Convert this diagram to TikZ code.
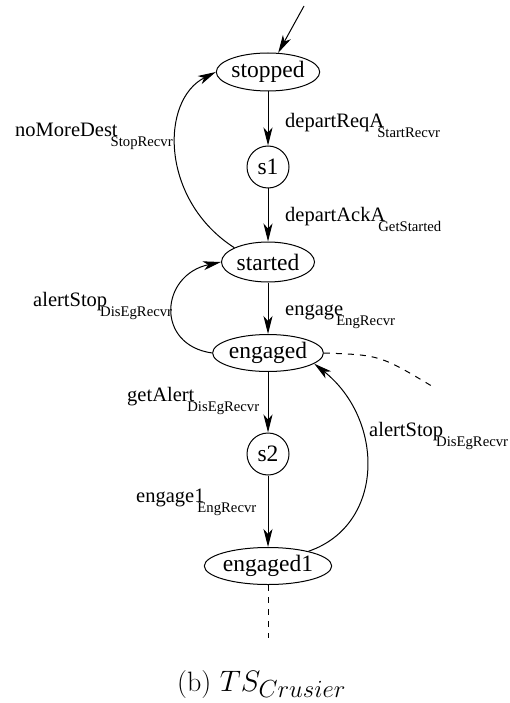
\documentclass[tikz,border=0pt]{standalone}
\usepackage{fontspec}
\newfontfamily\tms{Liberation Serif}
\usetikzlibrary{arrows.meta,shapes.geometric}
% transition label: event name with a lowered receiver subscript
\newcommand\edgelbl[2]{#1\kern-7pt\raisebox{-10pt}{\fontsize{14.7}{16}\selectfont #2}}
\begin{document}
\begin{tikzpicture}[x=1pt,y=-1pt,
  statebox/.style={ellipse,draw,line width=1pt,inner sep=0pt,
    font=\tms\fontsize{23.5}{25}\selectfont},
  midstate/.style={circle,draw,line width=1pt,inner sep=0pt,minimum size=42pt,
    font=\tms\fontsize{23.5}{25}\selectfont},
  trans/.style={line width=1pt,-{Stealth[length=18pt,width=9pt,inset=5pt]}},
  open/.style={line width=1pt,dash pattern=on 6pt off 6pt},
  lbl/.style={anchor=base west,inner sep=0pt,font=\tms\fontsize{20.5}{22}\selectfont}]
\useasboundingbox (0,0) rectangle (509,703);

% states
\node[statebox,minimum width=93pt,minimum height=38pt] (stopped) at (268,72) {stopped};
\node[midstate] (s1) at (268,167) {s1};
\node[statebox,minimum width=93pt,minimum height=40pt] (started) at (268,262) {started};
\node[statebox,minimum width=104pt,minimum height=37pt] (engaged) at (268,353) {engaged};
\node[midstate] (s2) at (268,454) {s2};
\node[statebox,minimum width=103pt,minimum height=37pt] (engaged1) at (268,566) {engaged1};

% initial arrow and open ends
\coordinate (init) at (304,6);
\coordinate (moreA) at (435,388);
\coordinate (moreB) at (268,638);
\draw[trans] (init) -- (stopped.62);
\draw[open] (engaged.east) .. controls (380,355) .. (moreA);
\draw[open] (engaged1.south) -- (moreB);

% straight transitions
\draw[trans] (stopped) -- (s1);
\draw[trans] (s1) -- (started);
\draw[trans] (started) -- (engaged);
\draw[trans] (engaged) -- (s2);
\draw[trans] (s2) -- (engaged1);

% back transitions
\draw[trans] (started.157) .. controls (160,200) and (160,100) .. (stopped.west);
\draw[trans] (engaged.west) .. controls (155,345) and (160,275) .. (started.west);
\draw[trans] (engaged1.20) .. controls (385,525) and (385,420) .. (engaged.-13);

% labels
\node[lbl] (l1) at (285,128) {\edgelbl{departReqA}{StartRecvr}};
\node[lbl] (l2) at (285,222) {\edgelbl{departAckA}{GetStarted}};
\node[lbl] (l3) at (15,137) {\edgelbl{noMoreDest}{StopRecvr}};
\node[lbl] (l4) at (33,306) {\edgelbl{alertStop}{DisEgRecvr}};
\node[lbl] (l5) at (285,315) {\edgelbl{engage}{EngRecvr}};
\node[lbl] (l6) at (127,401) {\edgelbl{getAlert}{DisEgRecvr}};
\node[lbl] (l7) at (369,436) {\edgelbl{alertStop}{DisEgRecvr}};
\node[lbl] (l8) at (136,502) {\edgelbl{engage1}{EngRecvr}};

% caption
\node[anchor=base west,inner sep=0pt,font=\fontsize{28}{34}\selectfont] (cap) at (177,691)
  {(b) \scalebox{1.19}{$TS_{Crusier}$}};
\end{tikzpicture}
\end{document}
